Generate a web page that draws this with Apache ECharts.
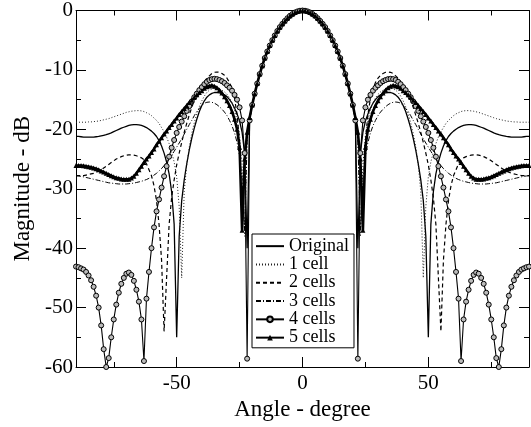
<!DOCTYPE html>
<html>
<head>
<meta charset="utf-8">
<script src="https://cdn.jsdelivr.net/npm/echarts@6/dist/echarts.min.js"></script>
<style>
html,body{margin:0;padding:0;background:#fff;}
#chart{width:531px;height:427px;}
</style>
</head>
<body>
<div id="chart"></div>
<script>
// Angle grid (degrees)
var angles = [
-90,-89,-88,-87,-86,-85,-84,-83,-82,-81,
-80,-79,-78,-77,-76,-75,-74,-73,-72,-71,
-70,-69,-68,-67,-66,-65,-64,-63,-62,-61,
-60,-59,-58,-57,-56,-55,-54,-53,-52,-51,
-50,-49,-48,-47,-46,-45,-44,-43,-42,-41,
-40,-39,-38,-37,-36,-35,-34,-33,-32,-31,
-30,-29,-28,-27,-26,-25,-24,-23,-22,-21,
-20,-19,-18,-17,-16,-15,-14,-13,-12,-11,
-10,-9,-8,-7,-6,-5,-4,-3,-2,-1,
0,
1,2,3,4,5,6,7,8,9,10,
11,12,13,14,15,16,17,18,19,20,
21,22,23,24,25,26,27,28,29,30,
31,32,33,34,35,36,37,38,39,40,
41,42,43,44,45,46,47,48,49,50,
51,52,53,54,55,56,57,58,59,60,
61,62,63,64,65,66,67,68,69,70,
71,72,73,74,75,76,77,78,79,80,
81,82,83,84,85,86,87,88,89,90
];

var original = [
-21.2,-21.2,-21.25,-21.3,-21.3,-21.3,-21.3,-21.3,-21.25,-21.2,
-21.1,-21.0,-20.9,-20.75,-20.6,-20.4,-20.2,-20.0,-19.8,-19.65,
-19.5,-19.35,-19.25,-19.2,-19.2,-19.25,-19.35,-19.5,-19.7,-20.0,
-20.3,-20.7,-21.2,-21.9,-22.8,-24.0,-25.5,-27.5,-30.5,-36,
-55,-38,-32,-28.5,-25.8,-23.5,-21.5,-19.8,-18.3,-17.0,
-16.0,-15.2,-14.6,-14.2,-13.95,-13.8,-13.8,-13.85,-14.0,-14.2,
-14.5,-15.0,-15.6,-16.4,-17.4,-18.6,-20.5,-24,-40,-18.0,
-15.9,-14.0,-12.3,-10.7,-9.3,-8.0,-6.9,-5.9,-5.0,-4.2,
-3.45,-2.8,-2.25,-1.75,-1.3,-0.9,-0.6,-0.33,-0.15,-0.04,
0,
-0.04,-0.15,-0.33,-0.6,-0.9,-1.3,-1.75,-2.25,-2.8,-3.45,
-4.2,-5.0,-5.9,-6.9,-8.0,-9.3,-10.7,-12.3,-14.0,-15.9,
-18.0,-40,-24,-20.5,-18.6,-17.4,-16.4,-15.6,-15.0,-14.5,
-14.2,-14.0,-13.85,-13.8,-13.8,-13.95,-14.2,-14.6,-15.2,-16.0,
-17.0,-18.3,-19.8,-21.5,-23.5,-25.8,-28.5,-32,-38,-55,
-36,-30.5,-27.5,-25.5,-24.0,-22.8,-21.9,-21.2,-20.7,-20.3,
-20.0,-19.7,-19.5,-19.35,-19.25,-19.2,-19.2,-19.25,-19.35,-19.5,
-19.65,-19.8,-20.0,-20.2,-20.4,-20.6,-20.75,-20.9,-21.0,-21.1,
-21.2,-21.25,-21.3,-21.3,-21.3,-21.3,-21.3,-21.25,-21.2,-21.2
];

var cell1 = [
-18.8,-18.8,-18.8,-18.8,-18.8,-18.75,-18.75,-18.7,-18.65,-18.6,
-18.5,-18.4,-18.3,-18.2,-18.05,-17.9,-17.75,-17.6,-17.45,-17.3,
-17.15,-17.05,-16.95,-16.9,-16.85,-16.85,-16.9,-17.0,-17.2,-17.4,
-17.7,-18.1,-18.5,-19.0,-19.7,-20.4,-21.3,-22.4,-23.8,-25.5,
-28,-33,-45,-30.5,-26,-23,-20.7,-18.9,-17.4,-16.2,
-15.2,-14.4,-13.8,-13.4,-13.2,-13.1,-13.1,-13.2,-13.4,-13.7,
-14.1,-14.7,-15.6,-16.8,-18.5,-21,-26,-38,-21,-18,
-15.9,-14.0,-12.3,-10.7,-9.3,-8.0,-6.9,-5.9,-5.0,-4.2,
-3.45,-2.8,-2.25,-1.75,-1.3,-0.9,-0.6,-0.33,-0.15,-0.04,
0,
-0.04,-0.15,-0.33,-0.6,-0.9,-1.3,-1.75,-2.25,-2.8,-3.45,
-4.2,-5.0,-5.9,-6.9,-8.0,-9.3,-10.7,-12.3,-14.0,-15.9,
-18,-21,-38,-26,-21,-18.5,-16.8,-15.6,-14.7,-14.1,
-13.7,-13.4,-13.2,-13.1,-13.1,-13.2,-13.4,-13.8,-14.4,-15.2,
-16.2,-17.4,-18.9,-20.7,-23,-26,-30.5,-45,-33,-28,
-25.5,-23.8,-22.4,-21.3,-20.4,-19.7,-19.0,-18.5,-18.1,-17.7,
-17.4,-17.2,-17.0,-16.9,-16.85,-16.85,-16.9,-16.95,-17.05,-17.15,
-17.3,-17.45,-17.6,-17.75,-17.9,-18.05,-18.2,-18.3,-18.4,-18.5,
-18.6,-18.65,-18.7,-18.75,-18.75,-18.8,-18.8,-18.8,-18.8,-18.8
];

var cell2 = [
-27.8,-27.8,-27.8,-27.8,-27.7,-27.6,-27.5,-27.4,-27.2,-27.0,
-26.8,-26.5,-26.2,-25.9,-25.6,-25.3,-25.0,-24.8,-24.6,-24.45,
-24.35,-24.3,-24.3,-24.35,-24.45,-24.6,-24.8,-25.1,-25.8,-26.8,
-27.8,-29.5,-32,-36,-42,-54,-45,-36,-31.5,-28.5,
-26,-24,-22.2,-20.5,-19,-17.6,-16.3,-15.1,-14.1,-13.2,
-12.5,-12.0,-11.4,-11.0,-10.6,-10.4,-10.35,-10.4,-10.6,-10.9,
-11.4,-12.1,-13.2,-14.8,-17.5,-22,-37,-26,-21,-18.0,
-15.9,-14.0,-12.3,-10.7,-9.3,-8.0,-6.9,-5.9,-5.0,-4.2,
-3.45,-2.8,-2.25,-1.75,-1.3,-0.9,-0.6,-0.33,-0.15,-0.04,
0,
-0.04,-0.15,-0.33,-0.6,-0.9,-1.3,-1.75,-2.25,-2.8,-3.45,
-4.2,-5.0,-5.9,-6.9,-8.0,-9.3,-10.7,-12.3,-14.0,-15.9,
-18.0,-21,-26,-37,-22,-17.5,-14.8,-13.2,-12.1,-11.4,
-10.9,-10.6,-10.4,-10.35,-10.4,-10.6,-11.0,-11.4,-12.0,-12.5,
-13.2,-14.1,-15.1,-16.3,-17.6,-19,-20.5,-22.2,-24,-26,
-28.5,-31.5,-36,-45,-54,-42,-36,-32,-29.5,-27.8,
-26.8,-25.8,-25.1,-24.8,-24.6,-24.45,-24.35,-24.3,-24.3,-24.35,
-24.45,-24.6,-24.8,-25.0,-25.3,-25.6,-25.9,-26.2,-26.5,-26.8,
-27.0,-27.2,-27.4,-27.5,-27.6,-27.7,-27.8,-27.8,-27.8,-27.8
];

var cell3 = [
-27.8,-27.85,-27.9,-28.0,-28.1,-28.2,-28.3,-28.4,-28.5,-28.6,
-28.7,-28.8,-28.9,-29.0,-29.05,-29.1,-29.15,-29.2,-29.2,-29.2,
-29.2,-29.15,-29.1,-29.05,-28.95,-28.85,-28.75,-28.6,-28.45,-28.25,
-28.0,-27.7,-27.4,-27.0,-26.6,-26.1,-25.6,-25.0,-24.4,-23.7,
-23.0,-22.3,-21.6,-20.8,-20.0,-19.2,-18.5,-17.7,-17.0,-16.5,
-16.0,-15.6,-15.45,-15.4,-15.45,-15.6,-15.85,-16.2,-16.6,-17.1,
-17.7,-18.5,-19.4,-20.6,-22.2,-24.5,-28.5,-37,-22,-18.5,
-16.0,-14.0,-12.3,-10.7,-9.3,-8.0,-6.9,-5.9,-5.0,-4.2,
-3.45,-2.8,-2.25,-1.75,-1.3,-0.9,-0.6,-0.33,-0.15,-0.04,
0,
-0.04,-0.15,-0.33,-0.6,-0.9,-1.3,-1.75,-2.25,-2.8,-3.45,
-4.2,-5.0,-5.9,-6.9,-8.0,-9.3,-10.7,-12.3,-14.0,-16.0,
-18.5,-22,-37,-28.5,-24.5,-22.2,-20.6,-19.4,-18.5,-17.7,
-17.1,-16.6,-16.2,-15.85,-15.6,-15.45,-15.4,-15.45,-15.6,-16.0,
-16.5,-17.0,-17.7,-18.5,-19.2,-20.0,-20.8,-21.6,-22.3,-23.0,
-23.7,-24.4,-25.0,-25.6,-26.1,-26.6,-27.0,-27.4,-27.7,-28.0,
-28.25,-28.45,-28.6,-28.75,-28.85,-28.95,-29.05,-29.1,-29.15,-29.2,
-29.2,-29.2,-29.2,-29.15,-29.1,-29.05,-29.0,-28.9,-28.8,-28.7,
-28.6,-28.5,-28.4,-28.3,-28.2,-28.1,-28.0,-27.9,-27.85,-27.8
];

var cell4 = [
-43.1,-43.2,-43.4,-43.6,-44.0,-44.6,-45.4,-46.5,-48.0,-50.0,
-53.0,-57.0,-60,-58.5,-55,-52,-49.5,-47.5,-46.0,-45.0,
-44.3,-44.1,-44.5,-45.5,-47.0,-49.0,-52.0,-59.0,-48.5,-44.0,
-40.0,-36.5,-33.8,-31.8,-29.8,-27.9,-26.2,-24.6,-23.1,-21.8,
-20.6,-19.6,-18.7,-17.8,-16.9,-16.1,-15.3,-14.6,-14.0,-13.4,
-12.9,-12.4,-12.0,-11.7,-11.55,-11.5,-11.55,-11.7,-11.9,-12.2,
-12.6,-13.0,-13.5,-14.2,-15.0,-16.3,-18.5,-24,-58.6,-18.5,
-15.9,-14.0,-12.3,-10.7,-9.3,-8.0,-6.9,-5.9,-5.0,-4.2,
-3.45,-2.8,-2.25,-1.75,-1.3,-0.9,-0.6,-0.33,-0.15,-0.04,
0,
-0.04,-0.15,-0.33,-0.6,-0.9,-1.3,-1.75,-2.25,-2.8,-3.45,
-4.2,-5.0,-5.9,-6.9,-8.0,-9.3,-10.7,-12.3,-14.0,-15.9,
-18.5,-58.6,-24,-18.5,-16.3,-15.0,-14.2,-13.5,-13.0,-12.6,
-12.2,-11.9,-11.7,-11.55,-11.5,-11.55,-11.7,-12.0,-12.4,-12.9,
-13.4,-14.0,-14.6,-15.3,-16.1,-16.9,-17.8,-18.7,-19.6,-20.6,
-21.8,-23.1,-24.6,-26.2,-27.9,-29.8,-31.8,-33.8,-36.5,-40.0,
-44.0,-48.5,-59.0,-52.0,-49.0,-47.0,-45.5,-44.5,-44.1,-44.3,
-45.0,-46.0,-47.5,-49.5,-52,-55,-58.5,-60,-57.0,-53.0,
-50.0,-48.0,-46.5,-45.4,-44.6,-44.0,-43.6,-43.4,-43.2,-43.1
];

var cell5 = [
-26.1,-26.1,-26.1,-26.15,-26.2,-26.3,-26.4,-26.5,-26.65,-26.8,
-27.0,-27.2,-27.4,-27.6,-27.8,-28.0,-28.15,-28.25,-28.35,-28.4,
-28.4,-28.4,-28.2,-27.9,-27.4,-26.8,-26.2,-25.6,-25.0,-24.5,
-23.9,-23.3,-22.6,-22.0,-21.4,-20.8,-20.3,-19.7,-19.2,-18.6,
-18.1,-17.5,-17.0,-16.5,-16.0,-15.5,-15.1,-14.6,-14.2,-13.8,
-13.5,-13.1,-12.85,-12.7,-12.6,-12.75,-13.0,-13.4,-13.9,-14.5,
-15.2,-16.0,-17.0,-18.3,-20,-23,-37,-25,-20.5,-18.0,
-15.9,-14.0,-12.3,-10.7,-9.3,-8.0,-6.9,-5.9,-5.0,-4.2,
-3.45,-2.8,-2.25,-1.75,-1.3,-0.9,-0.6,-0.33,-0.15,-0.04,
0,
-0.04,-0.15,-0.33,-0.6,-0.9,-1.3,-1.75,-2.25,-2.8,-3.45,
-4.2,-5.0,-5.9,-6.9,-8.0,-9.3,-10.7,-12.3,-14.0,-15.9,
-18.0,-20.5,-25,-37,-23,-20,-18.3,-17.0,-16.0,-15.2,
-14.5,-13.9,-13.4,-13.0,-12.75,-12.6,-12.7,-12.85,-13.1,-13.5,
-13.8,-14.2,-14.6,-15.1,-15.5,-16.0,-16.5,-17.0,-17.5,-18.1,
-18.6,-19.2,-19.7,-20.3,-20.8,-21.4,-22.0,-22.6,-23.3,-23.9,
-24.5,-25.0,-25.6,-26.2,-26.8,-27.4,-27.9,-28.2,-28.4,-28.4,
-28.4,-28.35,-28.25,-28.15,-28.0,-27.8,-27.6,-27.4,-27.2,-27.0,
-26.8,-26.65,-26.5,-26.4,-26.3,-26.2,-26.15,-26.1,-26.1,-26.1
];

var seriesNames = ['Original', '1 cell', '2 cells', '3 cells', '4 cells', '5 cells'];
var xMajorTicks = [-50, 0, 50];
var xMinorTicks = [-75, -25, 25, 75];

var FONT = "'Liberation Serif', 'Times New Roman', serif";

function pairs(vals) {
  return angles.map(function (a, i) { return [a, vals[i]]; });
}

var chart = echarts.init(document.getElementById('chart'), null, {renderer: 'canvas'});

var axisLineOn = {show: true, onZero: false, lineStyle: {color: '#000', width: 1}};
var axisLineOff = {show: false, onZero: false};
function xAx(pos, ticks, len, showLine, label) {
  var o = {
    type: 'value', min: -90, max: 90, position: pos,
    splitLine: {show: false},
    axisLine: showLine ? axisLineOn : axisLineOff,
    axisTick: {show: true, inside: true, length: len, customValues: ticks, lineStyle: {color: '#000', width: 1}},
    axisLabel: {show: false}
  };
  if (label) {
    o.axisLabel = {show: true, customValues: xMajorTicks, fontFamily: FONT, fontSize: 21, color: '#000', margin: 6};
    o.name = 'Angle - degree';
    o.nameLocation = 'middle';
    o.nameGap = 28;
    o.nameTextStyle = {fontFamily: FONT, fontSize: 23, color: '#000'};
  }
  return o;
}
function yAx(pos, label) {
  var o = {
    type: 'value', min: -60, max: 0, interval: 10, position: pos,
    splitLine: {show: false},
    axisLine: axisLineOn,
    axisTick: {show: true, inside: true, length: 10, lineStyle: {color: '#000', width: 1}},
    minorTick: {show: true, splitNumber: 2, length: 5, lineStyle: {color: '#000', width: 1}},
    minorSplitLine: {show: false},
    axisLabel: {show: false}
  };
  if (label) {
    o.axisLabel = {show: true, fontFamily: FONT, fontSize: 21, color: '#000', margin: 3};
    o.name = 'Magnitude - dB';
    o.nameLocation = 'middle';
    o.nameGap = 42;
    o.nameRotate = 90;
    o.nameTextStyle = {fontFamily: FONT, fontSize: 23, color: '#000'};
  }
  return o;
}

var noSym = {opacity: 0};
var option = {
  animation: false,
  backgroundColor: '#fff',
  grid: {left: 76, right: 2, top: 10, bottom: 60, containLabel: false},
  legend: {
    orient: 'vertical', left: 252, top: 234,
    backgroundColor: '#fff', borderColor: '#000', borderWidth: 1, borderRadius: 0,
    padding: [3, 5, 1, 3], itemGap: 0, itemWidth: 28, itemHeight: 7,
    textStyle: {fontFamily: FONT, fontSize: 18, color: '#000', lineHeight: 18.3},
    data: [
      {name: seriesNames[0], itemStyle: noSym},
      {name: seriesNames[1], itemStyle: noSym},
      {name: seriesNames[2], itemStyle: noSym},
      {name: seriesNames[3], itemStyle: noSym},
      {name: seriesNames[4]},
      {name: seriesNames[5]}
    ]
  },
  xAxis: [
    xAx('bottom', xMajorTicks, 10, true, true),
    xAx('bottom', xMinorTicks, 5, false, false),
    xAx('top', xMajorTicks, 10, true, false),
    xAx('top', xMinorTicks, 5, false, false)
  ],
  yAxis: [yAx('left', true), yAx('right', false)],
  series: [
    {name: seriesNames[0], type: 'line', data: pairs(original), showSymbol: false, symbol: 'none',
     lineStyle: {color: '#000', width: 1.3, type: 'solid'}, itemStyle: {color: '#000'}},
    {name: seriesNames[1], type: 'line', data: pairs(cell1), showSymbol: false, symbol: 'none',
     lineStyle: {color: '#222', width: 1, type: [1, 2]}, itemStyle: {color: '#222'}},
    {name: seriesNames[2], type: 'line', data: pairs(cell2), showSymbol: false, symbol: 'none',
     lineStyle: {color: '#000', width: 1.2, type: [4, 3]}, itemStyle: {color: '#000'}},
    {name: seriesNames[3], type: 'line', data: pairs(cell3), showSymbol: false, symbol: 'none',
     lineStyle: {color: '#000', width: 1, type: [5, 2, 1, 2]}, itemStyle: {color: '#000'}},
    {name: seriesNames[4], type: 'line', data: pairs(cell4), symbol: 'circle', symbolSize: 5, showSymbol: true,
     lineStyle: {color: '#000', width: 1.1}, itemStyle: {color: '#bbb', borderColor: '#000', borderWidth: 1}},
    {name: seriesNames[5], type: 'line', data: pairs(cell5), symbol: 'triangle', symbolSize: 5, showSymbol: true,
     lineStyle: {color: '#000', width: 2.6}, itemStyle: {color: '#000'}}
  ]
};
chart.setOption(option);
</script>
</body>
</html>
